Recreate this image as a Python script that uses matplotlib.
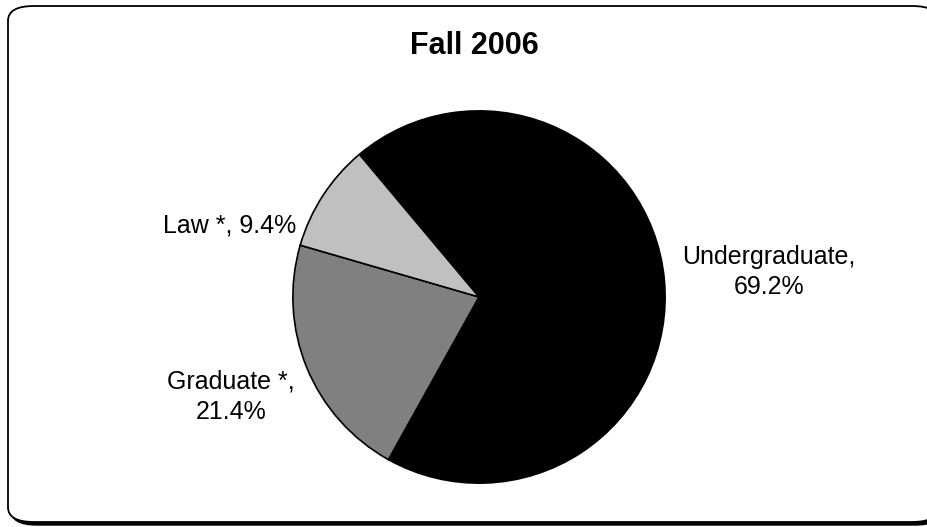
"""Fall 2006 enrollment pie chart, rendered to out.png."""

import matplotlib

matplotlib.use("Agg")
import matplotlib.pyplot as plt  # noqa: E402
from matplotlib.patches import FancyBboxPatch  # noqa: E402

TITLE = "Fall 2006"
CATEGORIES = ["Undergraduate", "Graduate *", "Law *"]
SHARES = [69.2, 21.4, 9.4]
COLORS = ["#000000", "#808080", "#c0c0c0"]

W, H = 928, 527
plt.rcParams["font.family"] = ["Liberation Sans", "DejaVu Sans"]

fig = plt.figure(figsize=(W / 100, H / 100), dpi=100)


def fx(px):
    return px / W


def fy(py):
    return 1 - py / H


# rounded frame with a dark drop shadow at the bottom/right (drawn beneath the pie)
box = dict(boxstyle="round,pad=0,rounding_size=0.028", transform=fig.transFigure, clip_on=False)
shadow = FancyBboxPatch((fx(11), fy(525)), fx(930), 518 / H, fc="black", ec="black",
                        lw=1.0, zorder=-2, **box)
frame = FancyBboxPatch((fx(8), fy(522)), fx(930), 516 / H, fc="white", ec="black",
                       lw=1.3, zorder=-1, **box)
fig.patches.extend([shadow, frame])

# pie: centre (479, 297) px, radius 188 px
cx, cy, r = 479, 297, 188
ax = fig.add_axes([fx(cx - r), fy(cy + r), 2 * r / W, 2 * r / H], zorder=1)
ax.pie(SHARES, colors=COLORS, startangle=130, counterclock=False, radius=1,
       wedgeprops=dict(edgecolor="black", linewidth=1.2))
ax.set_xlim(-1.01, 1.01)
ax.set_ylim(-1.01, 1.01)
ax.axis("off")

fig.text(fx(474), fy(46), TITLE, ha="center", va="center", fontsize=22, fontweight="bold")

labels = [f"{c},\n{s:.1f}%" for c, s in zip(CATEGORIES, SHARES)]
labels[2] = f"{CATEGORIES[2]}, {SHARES[2]:.1f}%"
fig.text(fx(769), fy(272), labels[0], ha="center", va="center", fontsize=18, linespacing=1.35)
fig.text(fx(231), fy(397), labels[1], ha="center", va="center", fontsize=18, linespacing=1.35)
fig.text(fx(296), fy(226), labels[2], ha="right", va="center", fontsize=18)

fig.savefig("out.png", dpi=100)
